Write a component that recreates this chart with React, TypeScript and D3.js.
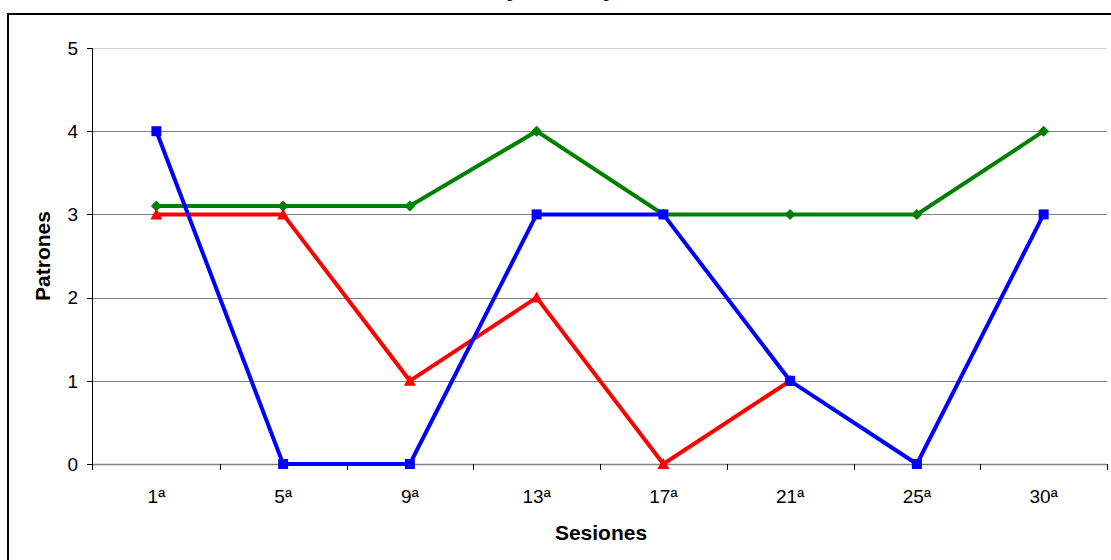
import React from "react";
import * as d3 from "d3";

const categories = ["1ª", "5ª", "9ª", "13ª", "17ª", "21ª", "25ª", "30ª"];
const greenValues: (number | null)[] = [3.1, 3.1, 3.1, 4, 3, 3, 3, 4];
const redValues: (number | null)[] = [3, 3, 1, 2, 0, 1, null, null];
const blueValues: (number | null)[] = [4, 0, 0, 3, 3, 1, 0, 3];
const yTicks = [0, 1, 2, 3, 4, 5];
const titleText = "Pareja de trabajo";

export default function App() {
  const W = 1111, H = 560;
  const left = 93, right = 1107, top = 48, bottom = 464;
  const x = d3.scaleBand<string>().domain(categories).range([left, right]);
  const y = d3.scaleLinear().domain([0, 5]).range([bottom, top]);
  const cx = (c: string) => (x(c) as number) + x.bandwidth() / 2;

  const line = d3
    .line<[string, number | null]>()
    .defined((d) => d[1] !== null)
    .x((d) => cx(d[0]))
    .y((d) => y(d[1] as number));

  const series = [
    { values: greenValues, color: "#008000", marker: "diamond" },
    { values: redValues, color: "#ff0000", marker: "triangle" },
    { values: blueValues, color: "#0000ff", marker: "square" },
  ];

  const font = "'Liberation Sans', Arial, sans-serif";

  return (
    <svg width={W} height={H} style={{ position: "absolute", left: 0, top: 0, background: "#fff" }}>
      <rect x={0} y={0} width={W} height={H} fill="#fff" />
      <text x={546} y={-4} textAnchor="middle" fontFamily="'Liberation Serif', serif" fontWeight="bold" fontStyle="italic" fontSize={22}>
        {titleText}
      </text>
      <rect x={8} y={14} width={1110} height={600} fill="none" stroke="#000" strokeWidth={2} />
      {yTicks.map((t) => (
        <g key={t}>
          {t > 0 && (
            <line x1={left} x2={right} y1={Math.round(y(t)) + 0.5} y2={Math.round(y(t)) + 0.5} stroke={t === 5 ? "#d0d0d0" : "#808080"} strokeWidth={1} />
          )}
          <line x1={left - 6} x2={left} y1={Math.round(y(t)) + 0.5} y2={Math.round(y(t)) + 0.5} stroke="#000" />
          <text x={left - 15} y={y(t)} dy="0.36em" textAnchor="end" fontFamily={font} fontSize={19}>
            {t}
          </text>
        </g>
      ))}
      <line x1={left - 0.5} x2={left - 0.5} y1={top} y2={bottom + 6} stroke="#000" />
      <line x1={left} x2={right} y1={bottom + 0.5} y2={bottom + 0.5} stroke="#808080" strokeWidth={1.5} />
      {categories.map((c, i) => (
        <line key={"tk" + i} x1={Math.round((x(c) as number) + x.bandwidth()) + 0.5} x2={Math.round((x(c) as number) + x.bandwidth()) + 0.5} y1={bottom} y2={bottom + 6} stroke="#000" />
      ))}
      {categories.map((c) => (
        <text key={c} x={cx(c)} y={bottom + 39} textAnchor="middle" fontFamily={font} fontSize={19}>
          {c}
        </text>
      ))}
      <text x={601} y={540} textAnchor="middle" fontFamily={font} fontWeight="bold" fontSize={21}>
        Sesiones
      </text>
      <text transform={`translate(50,${256}) rotate(-90)`} textAnchor="middle" fontFamily={font} fontWeight="bold" fontSize={21}>
        Patrones
      </text>
      {series.map((s, si) => {
        const pts = categories.map((c, i) => [c, s.values[i]] as [string, number | null]);
        return (
          <g key={si}>
            <path d={line(pts) || ""} fill="none" stroke={s.color} strokeWidth={4} strokeLinejoin="miter" />
            {pts
              .filter((p) => p[1] !== null)
              .map((p, i) => {
                const px = cx(p[0]);
                const py = y(p[1] as number);
                if (s.marker === "square")
                  return <rect key={i} x={px - 5} y={py - 5} width={10} height={10} fill={s.color} />;
                if (s.marker === "triangle")
                  return <path key={i} d={`M${px},${py - 6}L${px + 6},${py + 5}L${px - 6},${py + 5}Z`} fill={s.color} />;
                return <path key={i} d={`M${px},${py - 5.5}L${px + 5.5},${py}L${px},${py + 5.5}L${px - 5.5},${py}Z`} fill={s.color} />;
              })}
          </g>
        );
      })}
    </svg>
  );
}
